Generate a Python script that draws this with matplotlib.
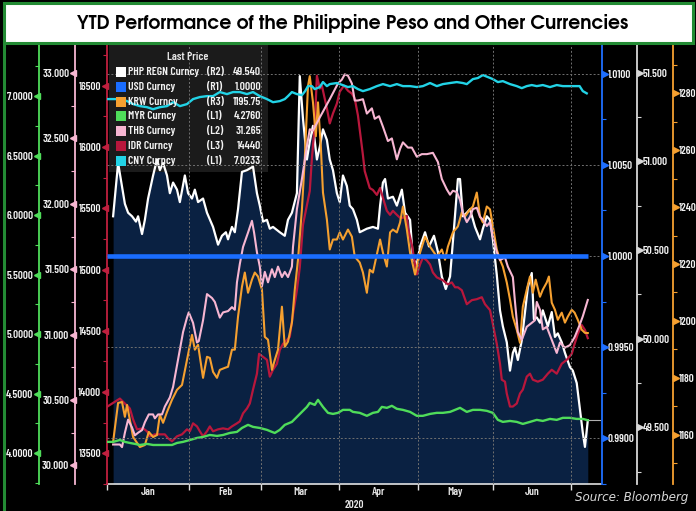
import matplotlib
matplotlib.use("Agg")
import matplotlib.pyplot as plt
import numpy as np
import pandas as pd
from matplotlib import font_manager, transforms
from matplotlib.patches import Rectangle
from matplotlib.lines import Line2D

# ---- data (trading-day index from 2020-01-01, value) ----
php_day = [1.6, 3.0, 4.9, 5.8, 6.9, 8.0, 8.6, 9.7, 10.5, 11.4, 12.8, 13.9, 14.7, 15.6, 16.7,
           17.5, 18.4, 19.5, 20.3, 21.7, 22.6, 23.7, 24.5, 25.4, 26.8, 27.9, 29.6, 31.0, 32.1,
           33.2, 33.8, 34.9, 35.7, 36.6, 37.7, 39.1, 40.8, 41.9, 42.7, 43.6, 44.7, 45.5, 46.4,
           48.3, 49.7, 50.6, 51.7, 53.1, 53.9, 54.8, 55.9, 56.7, 57.6, 58.7, 59.5, 60.4, 61.5,
           62.3, 63.2, 64.3, 65.1, 66.0, 67.1, 67.9, 68.8, 69.9, 70.7, 72.7, 74.4, 75.8, 76.4,
           77.2, 77.8, 78.6, 80.0, 81.1, 82.5, 83.4, 84.8, 85.6, 86.7, 87.6, 89.0, 90.1, 91.5,
           92.6, 93.7, 94.8, 96.0, 97.1, 98.2, 98.8, 99.6, 100.7, 101.6, 103.0, 104.4, 105.2,
           106.3, 107.2, 108.0, 109.1, 110.0, 110.8, 111.9, 112.8, 113.6, 114.2, 115.0, 116.1,
           117.0, 117.8, 118.9, 119.5, 120.3, 121.2, 122.0, 123.4, 124.5, 125.4, 126.2, 127.3,
           128.2, 129.6, 130.4, 131.5, 132.4, 133.2, 133.8, 134.6]
php_val = [50.69, 50.99, 50.76, 50.71, 50.69, 50.66, 50.69, 50.59, 50.67, 50.79, 50.92, 51.01,
           50.95, 50.99, 50.92, 50.82, 50.88, 50.84, 50.77, 50.92, 50.82, 50.79, 50.84, 50.77,
           50.79, 50.71, 50.63, 50.53, 50.58, 50.60, 50.56, 50.63, 50.60, 50.73, 50.94, 50.95,
           50.97, 50.82, 50.75, 50.66, 50.67, 50.62, 50.63, 50.60, 50.58, 50.67, 50.71, 50.82,
           51.48, 51.24, 51.01, 51.11, 51.20, 51.01, 51.08, 51.18, 51.12, 51.01, 50.95, 50.82,
           50.77, 50.92, 50.86, 50.75, 50.73, 50.67, 50.60, 50.62, 50.63, 50.62, 50.75, 50.88,
           50.90, 50.79, 50.80, 50.75, 50.84, 50.71, 50.67, 50.45, 50.42, 50.52, 50.60, 50.52,
           50.58, 50.49, 50.35, 50.28, 50.35, 50.62, 50.90, 50.90, 50.69, 50.71, 50.73, 50.63,
           50.56, 50.62, 50.69, 50.67, 50.56, 50.36, 50.16, 50.07, 49.98, 49.82, 49.92, 49.95,
           49.88, 49.99, 50.15, 50.29, 50.37, 50.11, 50.12, 50.09, 50.16, 50.07, 50.15, 50.01,
           50.03, 49.98, 49.92, 49.84, 49.82, 49.75, 49.60, 49.47, 49.39, 49.54]

usd_day = [0.0, 134.6]
usd_val = [1.0, 1.0]

krw_day = [1.6, 3.0, 4.1, 4.9, 5.5, 6.3, 7.2, 9.1, 10.5, 11.6, 12.8, 13.9, 14.7, 15.6, 16.7,
           18.1, 19.5, 20.9, 22.3, 23.7, 24.5, 25.4, 25.9, 26.8, 27.9, 28.7, 29.6, 30.7, 31.5,
           32.9, 33.8, 34.9, 35.7, 36.6, 37.7, 38.5, 39.4, 40.5, 41.3, 42.2, 43.3, 44.1, 45.0,
           46.1, 46.9, 47.8, 48.9, 49.7, 50.6, 51.7, 52.5, 53.4, 54.5, 55.3, 56.2, 56.7, 57.6,
           58.4, 59.0, 59.8, 60.4, 61.5, 62.3, 63.2, 64.3, 65.1, 66.0, 67.4, 68.5, 69.3, 70.7,
           71.6, 72.7, 73.5, 74.4, 75.5, 76.4, 77.2, 78.3, 79.2, 80.0, 81.1, 82.0, 82.8, 83.9,
           84.8, 86.2, 87.6, 89.0, 90.4, 92.3, 93.7, 94.6, 95.4, 96.8, 98.2, 99.3, 100.2, 101.6,
           102.4, 103.5, 104.4, 105.2, 106.3, 107.2, 108.0, 109.1, 110.0, 110.8, 111.9, 112.8,
           113.6, 114.7, 115.6, 116.4, 117.5, 118.4, 119.2, 120.0, 121.2, 122.0, 123.1, 123.7,
           124.5, 125.4, 126.2, 127.3, 128.2, 129.0, 130.1, 130.9, 131.8, 132.9, 133.8, 134.6]
krw_val = [1157.5, 1171.2, 1171.5, 1166.3, 1170.5, 1165.2, 1159.2, 1155.7, 1156.4, 1161.0,
           1159.2, 1159.9, 1167.0, 1164.2, 1168.0, 1172.3, 1175.8, 1177.5, 1186.3, 1195.1,
           1189.9, 1191.6, 1187.4, 1180.0, 1187.4, 1187.0, 1182.1, 1180.0, 1182.8, 1183.5,
           1183.9, 1189.9, 1189.9, 1201.5, 1212.0, 1217.0, 1209.9, 1214.5, 1217.0, 1215.6,
           1211.0, 1194.4, 1193.4, 1182.8, 1186.3, 1189.9, 1205.0, 1190.9, 1192.7, 1199.4,
           1211.0, 1221.5, 1239.2, 1256.8, 1282.5, 1286.0, 1276.8, 1264.9, 1276.8, 1261.3,
           1245.1, 1235.6, 1225.1, 1228.6, 1228.6, 1231.1, 1228.6, 1232.1, 1229.6, 1222.6,
           1220.5, 1217.0, 1209.9, 1218.0, 1217.0, 1223.3, 1228.6, 1224.0, 1219.1, 1231.1,
           1232.1, 1231.1, 1234.6, 1240.2, 1232.1, 1224.0, 1216.3, 1224.0, 1229.6, 1226.1,
           1222.6, 1225.1, 1221.5, 1226.1, 1231.1, 1233.2, 1238.1, 1236.7, 1239.2, 1240.2,
           1245.1, 1236.7, 1234.6, 1240.2, 1239.2, 1233.2, 1225.1, 1221.5, 1219.1, 1213.5,
           1207.5, 1201.5, 1196.9, 1192.3, 1205.0, 1211.0, 1215.6, 1209.9, 1214.5, 1208.5,
           1211.0, 1213.5, 1215.6, 1206.4, 1203.9, 1200.4, 1202.9, 1199.4, 1201.5, 1203.9,
           1202.9, 1200.4, 1196.9, 1195.8, 1195.75]

myr_day = [0.0, 1.6, 3.5, 4.9, 6.3, 7.7, 9.1, 11.1, 12.8, 14.7, 16.7, 18.1, 19.5, 21.2, 23.1,
           25.1, 26.8, 28.7, 30.7, 32.4, 34.3, 36.3, 37.7, 39.4, 40.8, 42.7, 44.7, 46.1, 46.9,
           48.3, 49.7, 51.7, 53.1, 54.5, 55.9, 56.7, 58.1, 59.0, 60.4, 61.8, 63.2, 64.6, 66.0,
           67.9, 68.8, 70.7, 72.7, 74.4, 75.8, 76.9, 78.3, 79.7, 81.1, 82.8, 84.8, 86.7, 88.4,
           90.4, 92.3, 94.0, 96.0, 98.8, 100.7, 102.4, 104.4, 106.3, 108.0, 109.4, 110.8, 112.8,
           114.7, 116.4, 118.4, 120.3, 122.0, 124.0, 125.9, 127.6, 129.6, 131.5, 133.2, 134.6]
myr_val = [4.094, 4.094, 4.110, 4.094, 4.085, 4.077, 4.068, 4.077, 4.068, 4.068, 4.068, 4.068,
           4.085, 4.094, 4.110, 4.127, 4.136, 4.152, 4.144, 4.152, 4.169, 4.178, 4.211, 4.237,
           4.220, 4.211, 4.195, 4.178, 4.169, 4.195, 4.237, 4.262, 4.304, 4.346, 4.388, 4.422,
           4.405, 4.447, 4.388, 4.338, 4.329, 4.338, 4.363, 4.363, 4.346, 4.338, 4.313, 4.338,
           4.346, 4.388, 4.380, 4.397, 4.372, 4.363, 4.346, 4.313, 4.313, 4.329, 4.338, 4.338,
           4.346, 4.380, 4.346, 4.363, 4.363, 4.355, 4.338, 4.279, 4.262, 4.270, 4.262, 4.245,
           4.262, 4.279, 4.270, 4.287, 4.279, 4.296, 4.296, 4.287, 4.287, 4.276]

thb_day = [1.6, 3.5, 4.1, 4.9, 5.8, 6.9, 7.7, 8.6, 9.7, 10.5, 11.6, 12.8, 13.3, 14.2, 15.3,
           16.1, 17.5, 18.4, 19.8, 21.2, 22.3, 22.8, 24.0, 25.1, 25.6, 26.8, 27.9, 29.3, 30.1,
           31.5, 32.4, 33.8, 34.9, 35.7, 36.3, 37.1, 38.0, 39.4, 40.5, 41.1, 41.9, 42.7, 43.3,
           44.1, 45.0, 46.1, 46.9, 47.8, 48.9, 49.7, 50.6, 51.7, 52.0, 53.1, 54.5, 55.9, 56.7,
           57.6, 59.5, 62.3, 64.6, 65.7, 66.5, 67.4, 68.5, 69.3, 70.2, 71.6, 72.7, 74.1, 74.9,
           76.1, 77.2, 78.6, 79.7, 81.1, 82.0, 82.8, 84.2, 85.3, 86.7, 88.1, 89.5, 91.2, 92.6,
           93.7, 95.1, 96.0, 96.8, 97.9, 98.8, 99.6, 100.7, 101.6, 102.4, 103.5, 104.4, 105.2,
           106.3, 107.2, 108.0, 109.1, 110.0, 111.4, 112.2, 113.6, 114.2, 115.0, 116.1, 117.5,
           118.9, 119.8, 120.3, 121.2, 122.0, 123.1, 124.5, 125.9, 126.8, 128.2, 129.6, 130.9,
           132.4, 133.2, 134.6]
thb_val = [30.16, 30.16, 30.14, 30.25, 30.35, 30.29, 30.23, 30.25, 30.27, 30.33, 30.39, 30.39,
           30.36, 30.39, 30.39, 30.45, 30.52, 30.60, 30.81, 31.02, 31.13, 31.17, 31.09, 30.94,
           30.95, 31.11, 31.31, 31.28, 31.25, 31.13, 31.17, 31.18, 31.21, 31.19, 31.40, 31.54,
           31.67, 31.78, 31.87, 31.78, 31.63, 31.52, 31.37, 31.48, 31.40, 31.50, 31.44, 31.52,
           31.44, 31.48, 31.44, 31.52, 31.67, 31.96, 32.19, 32.44, 32.57, 32.56, 32.66, 32.80,
           32.92, 32.95, 32.99, 32.98, 32.92, 32.79, 32.79, 32.80, 32.69, 32.73, 32.65, 32.67,
           32.59, 32.48, 32.50, 32.34, 32.42, 32.47, 32.43, 32.43, 32.36, 32.38, 32.38, 32.39,
           32.32, 32.19, 32.11, 32.07, 32.10, 32.09, 32.03, 31.93, 31.86, 31.90, 31.96, 31.97,
           31.90, 31.88, 31.83, 31.86, 31.75, 31.63, 31.57, 31.59, 31.52, 31.44, 31.25, 31.02,
           30.96, 31.06, 31.09, 31.11, 31.25, 31.19, 31.04, 31.06, 30.96, 30.86, 30.94, 30.90,
           30.92, 30.98, 31.08, 31.14, 31.265]

idr_day = [0.0, 3.5, 4.9, 6.3, 7.2, 8.3, 10.0, 11.1, 11.9, 13.3, 16.1, 17.0, 18.1, 19.5, 20.9,
           22.3, 23.1, 24.0, 25.1, 25.9, 26.8, 27.9, 28.7, 29.6, 31.0, 32.4, 33.8, 34.9, 36.3,
           37.1, 38.0, 39.1, 39.9, 40.8, 41.9, 42.5, 43.6, 44.7, 45.5, 46.4, 47.5, 48.3, 49.2,
           50.3, 51.1, 52.0, 53.1, 53.9, 54.8, 55.9, 56.7, 57.3, 58.1, 58.7, 59.5, 60.1, 61.5,
           62.3, 63.2, 64.3, 65.1, 66.3, 67.4, 68.5, 69.3, 70.2, 71.0, 71.6, 72.1, 73.5, 74.4,
           75.5, 76.4, 77.2, 78.3, 79.2, 80.0, 81.1, 82.0, 82.8, 83.9, 84.2, 85.3, 86.2, 86.7,
           87.6, 88.4, 89.5, 90.4, 91.2, 92.3, 94.0, 95.4, 96.5, 97.4, 98.2, 99.3, 100.7, 102.1,
           103.5, 104.9, 105.8, 107.2, 108.0, 109.1, 110.0, 110.5, 111.4, 111.9, 112.8, 113.6,
           114.7, 115.6, 116.4, 117.5, 118.4, 119.2, 120.6, 122.0, 123.4, 124.5, 125.9, 127.3,
           128.7, 130.1, 130.9, 131.8, 132.9, 133.8, 134.6]
idr_val = [13882, 13947, 13907, 13866, 13777, 13696, 13704, 13680, 13639, 13655, 13655, 13623,
           13599, 13639, 13655, 13696, 13680, 13745, 13720, 13680, 13639, 13680, 13720, 13680,
           13696, 13704, 13696, 13720, 13745, 13761, 13826, 13866, 13907, 14020, 14150, 14312,
           14288, 14263, 14126, 14182, 14231, 14344, 14393, 14425, 14450, 14636, 14831, 15017,
           15365, 15527, 15641, 15908, 16176, 16581, 16476, 16500, 16314, 16192, 16273, 16354,
           16451, 16500, 16459, 16435, 16395, 16257, 16070, 15933, 15803, 15665, 15649, 15609,
           15665, 15584, 15479, 15446, 15479, 15446, 15422, 15422, 15438, 15341, 15203, 15041,
           14960, 15041, 15098, 15074, 15041, 14976, 14936, 14912, 14879, 14895, 14855, 14855,
           14831, 14717, 14750, 14758, 14774, 14717, 14669, 14555, 14393, 14231, 14101, 14085,
           13988, 13882, 13882, 13907, 13988, 14020, 14126, 14150, 14101, 14085, 14101, 14150,
           14182, 14150, 14231, 14263, 14312, 14393, 14474, 14547, 14507, 14440]

cny_day = [0.0, 1.6, 3.5, 5.5, 7.2, 9.1, 11.1, 12.8, 14.7, 16.7, 18.4, 20.3, 22.3, 24.0, 25.9,
           27.9, 29.6, 31.5, 33.5, 35.2, 37.1, 39.1, 40.8, 42.7, 44.7, 46.4, 48.3, 49.7, 50.6,
           51.7, 53.1, 54.5, 55.4, 56.2, 57.3, 58.1, 59.5, 60.4, 61.5, 62.3, 64.3, 65.9, 67.4,
           68.8, 70.2, 71.6, 73.5, 75.5, 77.2, 79.2, 81.1, 82.8, 84.8, 86.7, 88.4, 90.4, 92.3,
           94.0, 96.0, 97.9, 99.6, 100.7, 102.4, 103.8, 105.2, 106.6, 108.0, 109.4, 110.8, 112.8,
           114.7, 116.1, 117.5, 118.9, 120.3, 122.0, 124.0, 125.9, 127.6, 129.6, 131.5, 132.3,
           133.2, 134.3]
cny_val = [6.975, 6.975, 6.975, 6.958, 6.933, 6.916, 6.907, 6.890, 6.907, 6.916, 6.949, 6.916,
           6.933, 6.975, 6.992, 7.000, 7.000, 7.034, 7.017, 7.034, 7.034, 7.017, 7.034, 7.000,
           6.975, 6.949, 6.958, 6.975, 7.000, 7.034, 7.017, 7.008, 7.042, 7.084, 7.084, 7.059,
           7.076, 7.118, 7.084, 7.101, 7.110, 7.093, 7.076, 7.084, 7.059, 7.042, 7.059, 7.084,
           7.101, 7.084, 7.101, 7.084, 7.084, 7.076, 7.084, 7.110, 7.084, 7.101, 7.110, 7.118,
           7.110, 7.101, 7.143, 7.152, 7.177, 7.160, 7.143, 7.118, 7.126, 7.101, 7.084, 7.067,
           7.084, 7.093, 7.084, 7.093, 7.076, 7.093, 7.084, 7.084, 7.084, 7.084, 7.042, 7.0233]

months = ["Jan", "Feb", "Mar", "Apr", "May", "Jun"]

legend_names = ["PHP REGN Curncy", "USD Curncy", "KRW Curncy", "MYR Curncy",
                "THB Curncy", "IDR Curncy", "CNY Curncy"]
legend_axes = ["(R2)", "(R1)", "(R3)", "(L1)", "(L2)", "(L3)", "(L1)"]
legend_last = ["49.540", "1.0000", "1195.75", "4.2760", "31.265", "14440", "7.0233"]

# colours
C_PHP, C_USD, C_KRW = "#ffffff", "#1a6dff", "#f5a030"
C_MYR, C_THB, C_IDR, C_CNY = "#4fdc5a", "#f7b6d2", "#b8173c", "#22d3e6"
legend_colors = [C_PHP, C_USD, C_KRW, C_MYR, C_THB, C_IDR, C_CNY]
NAVY = "#0a2142"
BORDER = "#238b34"

# pick fonts that are actually installed
_avail = {f.name for f in font_manager.fontManager.ttflist}


def pick(prefs, default="DejaVu Sans"):
    return next((p for p in prefs if p in _avail), default)


NARROW = pick(["Barlow Condensed", "Archivo Narrow", "Sofia Sans Condensed",
               "Saira Condensed", "Roboto Condensed", "PT Sans Narrow",
               "Liberation Sans Narrow", "Encode Sans Condensed", "Asap Condensed"])
GOTHIC = pick(["TeX Gyre Adventor", "URW Gothic", "URW Gothic L", "Century Gothic",
               "Didact Gothic", "Questrial", "Jost", "Lato"])
WT = "semibold"

W, H = 696, 511


def fx(px):
    return px / W


def fy(py):
    return 1 - py / H


fig = plt.figure(figsize=(W / 100, H / 100), dpi=100, facecolor="black")
renderer = fig.canvas.get_renderer()


def fit_size(text, target_px, **kw):
    t = fig.text(0, 0, text, fontsize=10, **kw)
    w = t.get_window_extent(renderer=renderer).width
    t.remove()
    return 10 * target_px / w


TICK_FS = fit_size("7.0000", 27, family=NARROW, fontweight=WT)
LEG_FS = fit_size("PHP REGN Curncy", 71, family=NARROW, fontweight=WT)
TITLE_FS = fit_size("YTD Performance of the Philippine Peso and Other Currencies", 553,
                    family=GOTHIC, fontweight="bold")
SRC_FS = fit_size("Source: Bloomberg", 114, family="DejaVu Sans", style="italic")

# title band + frame
fig.add_artist(Rectangle((fx(4), fy(43)), fx(689), 40 / H, transform=fig.transFigure,
                         facecolor="white", edgecolor=BORDER, linewidth=2.2, zorder=5))
fig.add_artist(Line2D([fx(4), fx(4)], [0, fy(43)], transform=fig.transFigure,
                      color=BORDER, linewidth=2.2, zorder=5))
fig.text(fx(353), fy(23), "YTD Performance of the Philippine Peso and Other Currencies",
         ha="center", va="center", fontsize=TITLE_FS, fontweight="bold", family=GOTHIC,
         color="black", zorder=6)

AX_L, AX_R, AX_T, AX_B = 107.4, 601, 44, 484
ax = fig.add_axes([fx(AX_L), fy(AX_B), (AX_R - AX_L) / W, (AX_B - AX_T) / H])
ax.set_facecolor("black")

ax_idr = ax.twinx()
ax_krw = ax.twinx()
ax_thb = ax.twinx()
ax_l1 = ax.twinx()
ax_usd = ax.twinx()

ax.set_xlim(0, 138.3)


def style_axis(a, side, outward_px, color, lim, ticks, fmt, minor):
    a.set_ylim(*lim)
    other = "right" if side == "left" else "left"
    for s in ["top", "bottom", other]:
        a.spines[s].set_visible(False)
    sp = a.spines[side]
    sp.set_visible(True)
    sp.set_position(("outward", outward_px * 0.72))
    sp.set_color(color)
    sp.set_linewidth(1.3)
    if side == "left":
        a.yaxis.tick_left()
    else:
        a.yaxis.tick_right()
    a.set_yticks(ticks)
    a.set_yticklabels([fmt.format(t) for t in ticks], family=NARROW, fontweight=WT)
    a.set_yticks(minor, minor=True)
    a.tick_params(axis="y", which="major", length=0, pad=4.4, labelsize=TICK_FS,
                  labelcolor="#f2f2f2")
    a.tick_params(axis="y", which="minor", length=3, width=0.8, color=color,
                  direction="out")
    # bloomberg-style triangle tick marks
    trans = transforms.offset_copy(sp.get_spine_transform(), fig=fig,
                                   x=-2.0 if side == "left" else 2.0, units="points")
    a.plot([0 if side == "left" else 1] * len(ticks), ticks, ls="none",
           marker="<" if side == "left" else ">", ms=4.2, color=color,
           transform=trans, clip_on=False)


# PHP (R2) on base axes: navy fill + white line
ax.fill_between(php_day, php_val, 49.181, color=NAVY, linewidth=0, zorder=1)
ax.add_patch(Rectangle((fx(109), fy(172)), fx(268) - fx(109), (172 - 44) / H,
                       transform=fig.transFigure, facecolor="#1e1e1e", alpha=0.92,
                       edgecolor="none", zorder=1.5))
ax.plot(php_day, php_val, color=C_PHP, lw=1.6, zorder=2)
ax.plot([php_day[-1], 138.3], [php_val[-1], php_val[-1]], color="#b0b0b0", lw=0.8, zorder=2)

ax_idr.plot(idr_day, idr_val, color=C_IDR, lw=1.6)
ax_krw.plot(krw_day, krw_val, color=C_KRW, lw=1.5)
ax_thb.plot(thb_day, thb_val, color=C_THB, lw=1.5)
ax_l1.plot(myr_day, myr_val, color=C_MYR, lw=1.7)
ax_l1.plot(cny_day, cny_val, color=C_CNY, lw=1.7)

style_axis(ax, "right", 36, "#d8d8d8", (49.181, 51.661), np.arange(49.5, 51.51, 0.5),
           "{:.3f}", np.arange(49.25, 51.66, 0.5))
style_axis(ax_idr, "left", 0, "#c0203f", (13283, 16840), np.arange(13500, 16501, 500),
           "{:.0f}", np.arange(13250, 16800, 250))
style_axis(ax_krw, "right", 72, C_KRW, (1142.7, 1297.3), np.arange(1160, 1281, 20),
           "{:.0f}", np.arange(1150, 1297, 10))
style_axis(ax_thb, "left", 32, C_THB, (29.858, 33.222), np.arange(30.0, 33.01, 0.5),
           "{:.3f}", np.arange(30.25, 33.2, 0.5))
style_axis(ax_l1, "left", 68, C_MYR, (3.740, 7.438), np.arange(4.0, 7.01, 0.5),
           "{:.4f}", np.arange(3.75, 7.44, 0.25))
style_axis(ax_usd, "right", 1, "#1f6fff", (0.98810, 1.01163),
           np.arange(0.990, 1.0101, 0.005), "{:.4f}", np.arange(0.9875, 1.0116, 0.0025))

# month boundaries and grid
days = pd.bdate_range("2020-01-01", "2020-07-31")
month_pos = [int(np.argmax(days.month == m)) for m in range(1, 8)]
ax_usd.grid(axis="y", which="major", color="#707070", linestyle=(0, (2, 2)), linewidth=0.7)
for p in month_pos[1:]:
    ax_usd.axvline(p, color="#707070", linestyle=(0, (2, 2)), linewidth=0.7, zorder=1.5)
ax_usd.plot(usd_day, usd_val, color=C_USD, lw=3.3, solid_capstyle="butt", zorder=3)

# x axis on base axes
ax.spines["bottom"].set_visible(True)
ax.spines["bottom"].set_color("#e0e0e0")
ax.spines["bottom"].set_linewidth(1.2)
ax.set_xticks(month_pos)
ax.set_xticklabels([])
ax.set_xticks([(a + b) / 2 for a, b in zip(month_pos[:-1], month_pos[1:])], minor=True)
ax.set_xticklabels(months, minor=True, family=NARROW, fontweight=WT)
ax.tick_params(axis="x", which="major", length=4, width=1, color="#e0e0e0", direction="out")
ax.tick_params(axis="x", which="minor", length=0, pad=2.5, labelsize=TICK_FS,
               labelcolor="#e6e6e6")
ax.set_xlabel("2020", fontsize=TICK_FS, color="#e6e6e6", labelpad=1.5, family=NARROW,
              fontweight=WT)

# legend (Bloomberg "Last Price" box)
fig.text(fx(188), fy(57), "Last Price", ha="center", va="center", fontsize=LEG_FS,
         color="#e6e6e6", family=NARROW, fontweight=WT, zorder=7)
for k, (name, side, last, col) in enumerate(zip(legend_names, legend_axes, legend_last,
                                               legend_colors)):
    yc = 72 + 14.8 * k
    fig.add_artist(Rectangle((fx(116), fy(yc + 5)), 10 / W, 10 / H, transform=fig.transFigure,
                             facecolor=col, edgecolor="none", zorder=7))
    fig.text(fx(128), fy(yc), name, ha="left", va="center", fontsize=LEG_FS, color="#f2f2f2",
             family=NARROW, fontweight=WT, zorder=7)
    fig.text(fx(207), fy(yc), side, ha="left", va="center", fontsize=LEG_FS, color="#f2f2f2",
             family=NARROW, fontweight=WT, zorder=7)
    fig.text(fx(261), fy(yc), last, ha="right", va="center", fontsize=LEG_FS, color="#f2f2f2",
             family=NARROW, fontweight=WT, zorder=7)

fig.text(fx(575), fy(497), "Source: Bloomberg", ha="left", va="center", fontsize=SRC_FS,
         style="italic", color="#d8d8d8")

fig.savefig("out.png", dpi=100, facecolor="black")
